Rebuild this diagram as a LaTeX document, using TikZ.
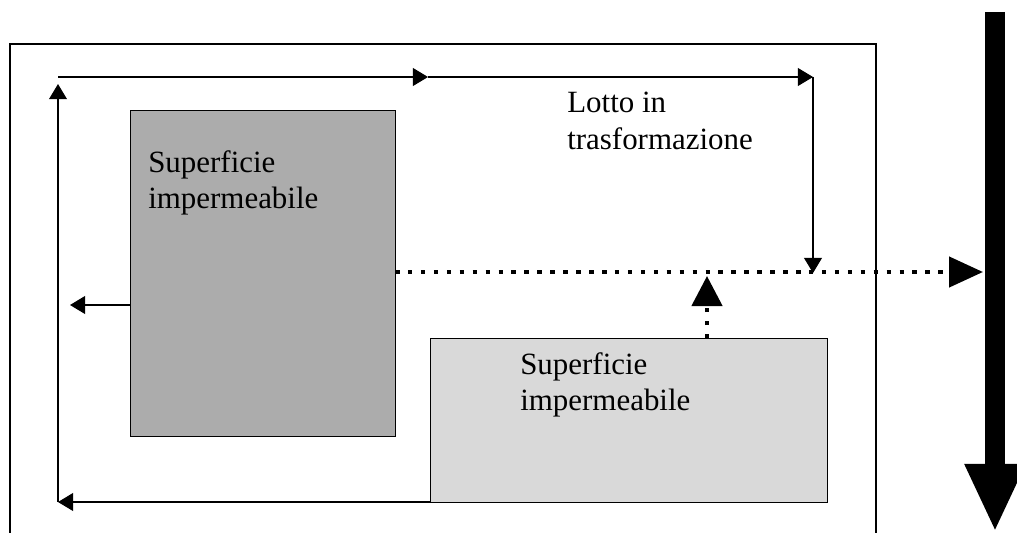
\documentclass[tikz,border=0pt]{standalone}
\usepackage{fontspec}
\setmainfont{Liberation Serif}
\usetikzlibrary{arrows.meta}

\begin{document}
\begin{tikzpicture}[x=0.025cm, y=-0.025cm,
  every node/.style={font=\fontsize{22}{26}\selectfont, align=left, inner sep=0pt},
  flow/.style={line width=0.8pt, -{Triangle[length=0.38cm, width=0.45cm]}},
  dotflow/.style={line width=3.2pt, dash pattern=on 3.2pt off 6pt,
    -{Triangle[length=0.85cm, width=0.75cm]}},
  surface/.style={draw, line width=0.6pt}]
  \useasboundingbox (0,0) rectangle (1017,532);
  % lot boundary
  \draw[line width=1pt] (10,540) -- (10,44) -- (876,44) -- (876,540);
  % impervious surfaces
  \filldraw[surface, fill=gray!65] (130,110) rectangle (395,436);
  \filldraw[surface, fill=gray!30] (430,338) rectangle (827,502);
  \coordinate (darkL) at (130,305);
  \coordinate (darkR) at (395,272);
  \coordinate (lightT) at (707,338);
  \coordinate (lightL) at (430,502);
  \node[anchor=north west] (txtA) at (148,150) {Superficie\\impermeabile};
  \node[anchor=north west] (txtB) at (520,352) {Superficie\\impermeabile};
  \node[anchor=north west] (lotto) at (567,92) {Lotto in\\trasformazione};
  % runoff arrows
  \coordinate (cornerBL) at (58,502);
  \coordinate (cornerTL) at (58,77);
  \coordinate (midT) at (428,77);
  \coordinate (cornerTR) at (813,77);
  \coordinate (outR) at (813,273);
  \coordinate (joint) at (707,276);
  \coordinate (outlet) at (983,272);
  \draw[flow] (lightL) -- (cornerBL);
  \draw[flow] (cornerBL) -- ([yshift=-5]cornerTL);
  \draw[flow] (cornerTL) -- (midT);
  \draw[flow] (midT) -- (cornerTR);
  \draw[flow] (cornerTR) -- (outR);
  \draw[flow] (darkL) -- (70,305);
  \draw[dotflow] (darkR) -- (outlet);
  \draw[dotflow, -{Triangle[length=0.75cm, width=0.75cm]}] (lightT) -- (joint);
  % receiving channel
  \draw[line width=0.48cm, -{Triangle[length=1.7cm, width=1.4cm]}] (995,12) -- (995,532);
\end{tikzpicture}
\end{document}
